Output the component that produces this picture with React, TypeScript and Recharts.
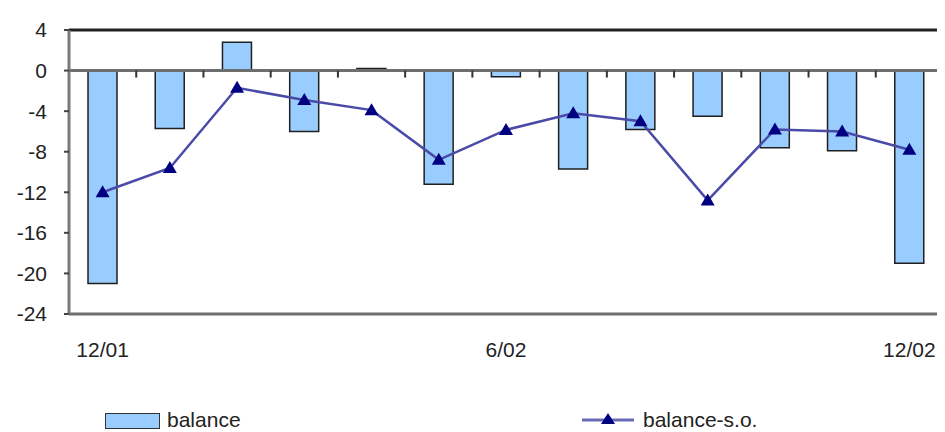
import React from "react";
import {
  Bar,
  ComposedChart,
  Legend,
  Line,
  ReferenceLine,
  XAxis,
  YAxis,
} from "recharts";

const months = [
  "12/01", "1/02", "2/02", "3/02", "4/02", "5/02", "6/02",
  "7/02", "8/02", "9/02", "10/02", "11/02", "12/02",
];
const shownMonths = ["12/01", "6/02", "12/02"];
const balance = [-21, -5.7, 2.8, -6, 0.2, -11.2, -0.6, -9.7, -5.8, -4.5, -7.6, -7.9, -19];
const balanceSo = [-12, -9.6, -1.7, -2.9, -3.9, -8.8, -5.85, -4.2, -5, -12.8, -5.8, -6, -7.8];
const yTicks = [-24, -20, -16, -12, -8, -4, 0, 4];

const data = months.map((m, i) => ({
  month: m,
  balance: balance[i],
  balanceSo: balanceSo[i],
}));

const FONT = "'Liberation Sans', Arial, sans-serif";

// Excel-style triangle marker
const Triangle = (props: any) => {
  const { cx, cy, index } = props;
  if (cx == null || cy == null) return null;
  return (
    <polygon
      key={`tri-${index}`}
      points={`${cx},${cy - 7} ${cx - 7},${cy + 5} ${cx + 7},${cy + 5}`}
      fill="#000080"
    />
  );
};

// zero line with tick marks between the categories
const ZeroLine = (props: any) => {
  const { x1, y1, x2 } = props;
  const n = months.length;
  const ticks = [];
  for (let k = 1; k < n; k++) {
    const x = x1 + ((x2 - x1) * k) / n;
    ticks.push(<line key={k} x1={x} x2={x} y1={y1} y2={y1 + 7} stroke="#333" strokeWidth={2} />);
  }
  return (
    <g>
      <line x1={x1} x2={x2} y1={y1} y2={y1} stroke="#6e6e6e" strokeWidth={3} />
      {ticks}
    </g>
  );
};

const renderLegend = () => (
  <div style={{ position: "relative", height: 40, width: 937, fontFamily: FONT, fontSize: 21, color: "#222" }}>
    <div style={{ position: "absolute", left: 97, top: 21, width: 55, height: 16, background: "#99ccff", border: "1.5px solid #333", boxSizing: "border-box" }} />
    <div style={{ position: "absolute", left: 159, top: 16, lineHeight: "24px" }}>balance</div>
    <svg style={{ position: "absolute", left: 574, top: 18 }} width={52} height={16}>
      <line x1={0} x2={52} y1={10} y2={10} stroke="#6a6ab8" strokeWidth={3} />
      <polygon points="26,3 19,14 33,14" fill="#000080" />
    </svg>
    <div style={{ position: "absolute", left: 635, top: 16, lineHeight: "24px" }}>balance-s.o.</div>
  </div>
);

export default function App() {
  return (
    <div style={{ width: 937, height: 424, fontFamily: FONT, background: "#fff" }}>
      <ComposedChart
        width={937}
        height={424}
        data={data}
        margin={{ top: 22, right: 2, left: 0, bottom: 0 }}
      >
        <XAxis
          dataKey="month"
          interval={0}
          height={78}
          tickLine={false}
          tickSize={6}
          tickMargin={22}
          axisLine={{ stroke: "#6e6e6e", strokeWidth: 3 }}
          tick={{ fill: "#222", fontSize: 21, fontFamily: FONT }}
          tickFormatter={(v: string) => (shownMonths.includes(v) ? v : "")}
        />
        <YAxis
          width={61}
          domain={[-24, 4]}
          ticks={yTicks}
          interval={0}
          tickSize={5}
          tickMargin={17}
          tickLine={{ stroke: "#444", strokeWidth: 2 }}
          axisLine={{ stroke: "#7a7a7a", strokeWidth: 3 }}
          tick={{ fill: "#222", fontSize: 21, fontFamily: FONT }}
        />
        {/* plot frame: top and right edges */}
        <ReferenceLine y={4} stroke="#222" strokeWidth={3} />
        <ReferenceLine x={months[months.length - 1]} position="end" stroke="#888" strokeWidth={3} />
        <Bar
          dataKey="balance"
          name="balance"
          fill="#99ccff"
          stroke="#1f1f1f"
          strokeWidth={1.5}
          barSize={29}
          isAnimationActive={false}
        />
        <ReferenceLine y={0} shape={<ZeroLine />} />
        <Line
          type="linear"
          dataKey="balanceSo"
          name="balance-s.o."
          stroke="#4a4aa8"
          strokeWidth={2.5}
          dot={<Triangle />}
          activeDot={false}
          isAnimationActive={false}
        />
        <Legend verticalAlign="bottom" height={40} content={renderLegend} />
      </ComposedChart>
    </div>
  );
}
